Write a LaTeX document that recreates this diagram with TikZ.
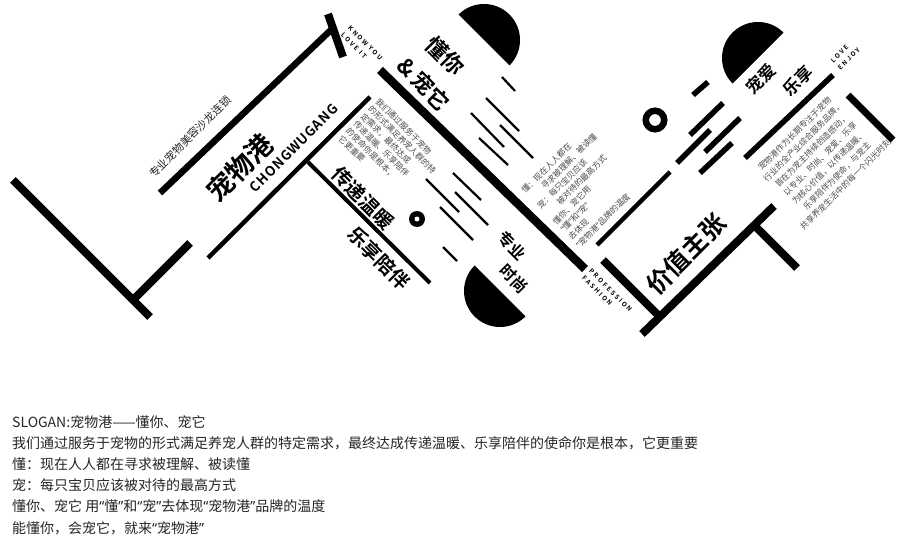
\documentclass[tikz,border=0pt]{standalone}
\usepackage{fontspec}
\setmainfont{Noto Sans CJK SC}[BoldFont={Noto Sans CJK SC Bold}]
\newfontfamily\latinfont{Noto Sans}
\newcommand{\fsz}[2]{\fontsize{#1}{#2}\selectfont}
\newcommand{\qo}{{\latinfont “}}
\newcommand{\qc}{{\latinfont ”}}

\begin{document}
\begin{tikzpicture}[
            x=1pt, y=-1pt,
            heavy/.style={line width=8pt},
            medium/.style={line width=4.5pt},
            hairline/.style={line width=2.2pt},
            stub/.style={line width=5.5pt},
            title/.style={inner sep=0pt, font=\bfseries\fsz{#1}{#1}},
            tag/.style={inner sep=0pt, align=left, font=\bfseries\fsz{6.3}{9.8}\addfontfeature{LetterSpace=30}},
            blurb/.style={inner sep=0pt, text=black!70, font=\fsz{8.3}{#1}}
            ]
            \useasboundingbox (0,0) rectangle (900,559);
            \fill[white] (0,0) rectangle (900,559);

            % left frame
            \draw[heavy] (13,180) -- (150,317);
            \draw[heavy] (133,300) -- (190,243);
            \draw[line width=6.5pt] (160,193) -- (333,28);
            \draw[heavy] (328,14) -- (343,57);
            \draw[medium] (208,258) -- (370,97);
            \draw[line width=4pt] (308,162) -- (430,283);
            \node[font=\fsz{11}{11}, inner sep=0pt, text=black!85, rotate=45] (salon) at (190,137) {专业宠物美容沙龙连锁};
            \node[title=27, rotate=45] (brand) at (240,168) {宠物港};
            \node[inner sep=0pt, rotate=45, font=\bfseries\fsz{13.5}{13.5}\addfontfeature{LetterSpace=6}] (pinyin) at (294,148) {CHONGWUGANG};
            \node[blurb=10.5, align=left, anchor=north west, rotate=-45] (mission) at (380,97)
              {我们通过服务于宠物\\的形式满足养宠人群的特\\定需求，最终达成\\传递温暖、乐享陪伴\\的使命你是根本，\\它更重要};
            \node[title=19.5, rotate=-45] (warm) at (363,198) {传递温暖};
            \node[title=19.5, rotate=-45] (company) at (379,258) {乐享陪伴};
            \fill (417,219) circle[radius=8];
            \fill[white] (417,219) circle[radius=2.5];

            % middle band
            \draw[line width=8.5pt] (380,70) -- (585,269);
            \node[tag, anchor=north west, rotate=-45] (know) at (351,25) {KNOW YOU\\LOVE IT};
            \node[title=22, rotate=-45] (dongni) at (445,56) {懂你};
            \node[title=22, rotate=-45] (chongta) at (424,84) {\&\,宠它};
            \fill (484,40) ++(-135:36) arc[start angle=-135, end angle=45, radius=36] -- cycle;
            \fill (500,291) ++(45:36) arc[start angle=45, end angle=225, radius=36] -- cycle;
            \draw[hairline] (502,77) -- (515,91);
            \draw[hairline] (486,98) -- (519,131);
            \draw[hairline] (471,113) -- (504,147);
            \draw[hairline] (500,125) -- (533,158);
            \draw[hairline] (479,138) -- (508,165);
            \draw[hairline] (453,173) -- (481,200);
            \draw[hairline] (426,179) -- (459,212);
            \draw[hairline] (455,192) -- (488,225);
            \draw[hairline] (440,207) -- (473,240);
            \draw[hairline] (443,247) -- (457,261);
            \node[title=16, rotate=-45] (zhuanye) at (512,246) {专业};
            \node[title=16, rotate=-45] (shishang) at (514,279) {时尚};
            \node[tag, anchor=north west, rotate=-45] (profession) at (592,268) {PROFESSION\\FASHION};
            \node[blurb=11, align=left, anchor=north west, rotate=45] (dong) at (520,189)
              {懂：现在人人都在\\\hspace*{2em}寻求被理解、被读懂\\宠：每只宝贝应该\\\hspace*{2em}被对待的最高方式\\懂你、宠它用\\\qo 懂\qc 和\qo 宠\qc\\去体现\\\qo 宠物港\qc 品牌的温度};

            % right band
            \draw[medium] (597,245) -- (670,172);
            \draw[line width=5.5pt] (745,158) -- (833,75);
            \draw[line width=7pt] (848,95) -- (893,140);
            \draw[line width=6.5pt] (655,120) circle[radius=9.25];
            \draw[stub] (693,95) -- (708,82);
            \draw[stub] (690,135) -- (723,103);
            \draw[stub] (705,152) -- (740,118);
            \draw[stub] (677,163) -- (710,130);
            \draw[stub] (700,173) -- (732,143);
            \fill (758,58) ++(135:36) arc[start angle=135, end angle=315, radius=36] -- cycle;
            \node[title=17, rotate=45] (chongai) at (761,79) {宠爱};
            \node[title=17, rotate=45] (lexiang) at (798,81) {乐享};
            \node[tag, anchor=north west, rotate=45] (love) at (830,60) {LOVE\\ENJOY};
            \node[blurb=12, align=center, rotate=45] (about) at (820,159)
              {宠物港作为长期专注于宠物\\行业的全产业综合服务品牌，\\皆在为宠主持续创造感动，\\以专业、时尚、宠爱、乐享\\为核心价值，以传递温暖、\\乐享陪伴为使命，与宠主\\共享养宠生活中的每一个闪光时刻};
            \draw[heavy] (603,260) -- (659,316);
            \draw[heavy] (642,334) -- (774,206);
            \draw[heavy] (754,225) -- (797,268);
            \node[title=25, rotate=45] (value) at (686,254) {价值主张};

            % slogan text
            \foreach \txt [count=\i] in {SLOGAN:宠物港——懂你、宠它,
                我们通过服务于宠物的形式满足养宠人群的特定需求，最终达成传递温暖、乐享陪伴的使命你是根本，它更重要,
                懂：现在人人都在寻求被理解、被读懂,
                宠：每只宝贝应该被对待的最高方式,
                懂你、宠它 用\qo 懂\qc 和\qo 宠\qc 去体现\qo 宠物港\qc 品牌的温度,
                能懂你，会宠它，就来\qo 宠物港\qc}
              \node[anchor=base west, inner sep=0pt, font=\fsz{14}{14}, text=black!85] (slogan\i) at (12,{427+21.2*(\i-1)}) {\txt};
        \end{tikzpicture}
\end{document}
